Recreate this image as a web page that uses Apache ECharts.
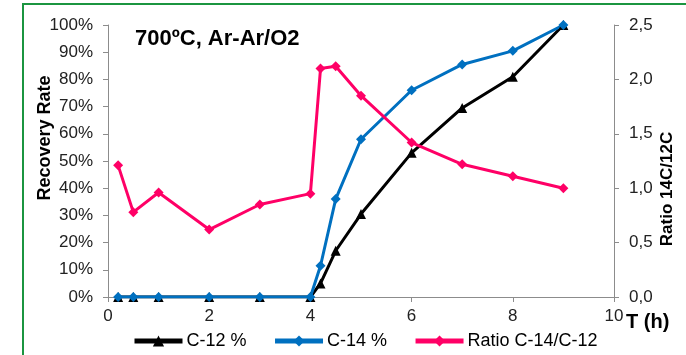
<!DOCTYPE html>
<html>
<head>
<meta charset="utf-8">
<script src="https://cdn.jsdelivr.net/npm/echarts@6/dist/echarts.min.js"></script>
<style>
  html, body { margin: 0; padding: 0; background: #fff; }
  #chart { width: 686px; height: 355px; }
</style>
</head>
<body>
<div id="chart"></div>
<script>
// Sampling times (h)
const hours = [0.2, 0.5, 1, 2, 3, 4, 4.2, 4.5, 5, 6, 7, 8, 9];
// Cumulative recovery (%)
const c12Pct = [0, 0, 0, 0, 0, 0, 5, 17, 30.5, 53, 69.5, 81, 100];
const c14Pct = [0, 0, 0, 0, 0, 0, 11.5, 36, 58, 76, 85.5, 90.5, 100];
// Ratio C-14 / C-12
const ratio = [1.21, 0.78, 0.96, 0.62, 0.85, 0.95, 2.10, 2.12, 1.85, 1.42, 1.22, 1.11, 1.0];

const seriesNames = ['C-12 %', 'C-14 %', 'Ratio C-14/C-12'];
const titleText = '700ºC, Ar-Ar/O2';
const leftAxisTitle = 'Recovery Rate';
const rightAxisTitle = 'Ratio 14C/12C';
const xAxisTitle = 'T (h)';

const FONT = '"Liberation Sans", Arial, sans-serif';
const AXIS_GRAY = '#8c8c8c';

const pairs = (xs, ys) => xs.map((x, i) => [x, ys[i]]);

const chart = echarts.init(document.getElementById('chart'), null, { renderer: 'canvas' });

chart.setOption({
  animation: false,
  backgroundColor: '#ffffff',
  textStyle: { fontFamily: FONT },
  grid: { left: 108, right: 72, top: 25, bottom: 58 },
  legend: {
    data: seriesNames,
    left: 132,
    top: 332,
    padding: 0,
    itemWidth: 48,
    itemHeight: 14,
    itemGap: 26,
    lineStyle: { width: 5 },
    textStyle: { fontFamily: FONT, fontSize: 18, color: '#000', padding: [0, 0, 0, -1] }
  },
  xAxis: {
    type: 'value',
    min: 0, max: 10, interval: 2,
    axisLine: { show: true, lineStyle: { color: AXIS_GRAY, width: 1 } },
    axisTick: { show: true, inside: false, length: 5, lineStyle: { color: AXIS_GRAY } },
    axisLabel: { fontSize: 17, color: '#222', margin: 11, fontFamily: FONT },
    splitLine: { show: false }
  },
  yAxis: [
    {
      type: 'value',
      position: 'left',
      min: 0, max: 100, interval: 10,
      axisLine: { show: true, lineStyle: { color: AXIS_GRAY, width: 1 } },
      axisTick: { show: true, inside: false, length: 5, lineStyle: { color: AXIS_GRAY } },
      axisLabel: { formatter: '{value}%', fontSize: 17, color: '#222', margin: 15, fontFamily: FONT },
      splitLine: { show: false }
    },
    {
      type: 'value',
      position: 'right',
      min: 0, max: 2.5, interval: 0.5,
      axisLine: { show: true, lineStyle: { color: AXIS_GRAY, width: 1 } },
      axisTick: { show: true, inside: false, length: 5, lineStyle: { color: AXIS_GRAY } },
      axisLabel: {
        formatter: v => v.toFixed(1).replace('.', ','),
        fontSize: 17, color: '#222', margin: 15, fontFamily: FONT
      },
      splitLine: { show: false }
    }
  ],
  series: [
    {
      name: seriesNames[0],
      type: 'line',
      yAxisIndex: 0,
      data: pairs(hours, c12Pct),
      symbol: 'triangle',
      symbolSize: 10,
      color: '#000000',
      lineStyle: { width: 3, color: '#000000' },
      itemStyle: { color: '#000000' }
    },
    {
      name: seriesNames[1],
      type: 'line',
      yAxisIndex: 0,
      data: pairs(hours, c14Pct),
      symbol: 'diamond',
      symbolSize: 10,
      color: '#0070c0',
      lineStyle: { width: 3, color: '#0070c0' },
      itemStyle: { color: '#0070c0' }
    },
    {
      name: seriesNames[2],
      type: 'line',
      yAxisIndex: 1,
      data: pairs(hours, ratio),
      symbol: 'diamond',
      symbolSize: 10,
      color: '#ff0066',
      lineStyle: { width: 3, color: '#ff0066' },
      itemStyle: { color: '#ff0066' }
    }
  ],
  graphic: [
    {
      type: 'rect',
      silent: true,
      shape: { x: 23, y: 4, width: 720, height: 420 },
      style: { fill: 'none', stroke: '#1b9540', lineWidth: 2 }
    },
    {
      type: 'text',
      left: 135, top: 28,
      style: { text: titleText, font: 'bold 22px ' + FONT, fill: '#000' }
    },
    {
      type: 'text',
      x: 45, y: 138,
      rotation: Math.PI / 2,
      style: { text: leftAxisTitle, font: 'bold 18px ' + FONT, fill: '#000', align: 'center', verticalAlign: 'middle' }
    },
    {
      type: 'text',
      x: 667, y: 189,
      rotation: Math.PI / 2,
      style: { text: rightAxisTitle, font: 'bold 17px ' + FONT, fill: '#000', align: 'center', verticalAlign: 'middle' }
    },
    {
      type: 'text',
      x: 626, y: 322,
      style: { text: xAxisTitle, font: 'bold 20px ' + FONT, fill: '#000', align: 'left', verticalAlign: 'middle' }
    }
  ]
});
</script>
</body>
</html>
